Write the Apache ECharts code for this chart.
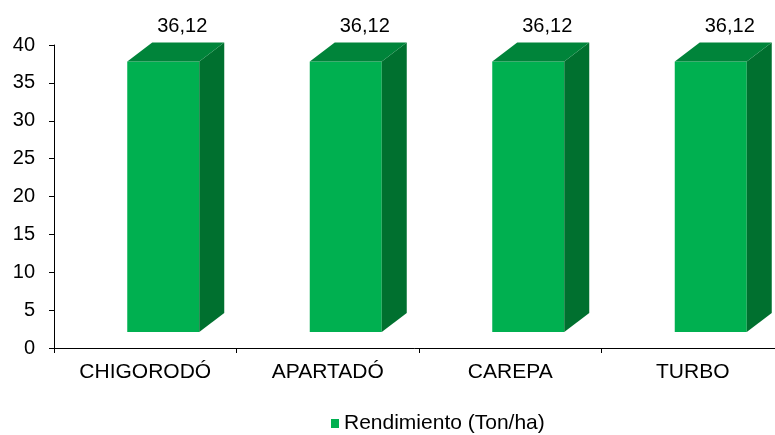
<!DOCTYPE html>
<html>
<head>
<meta charset="utf-8">
<script src="https://cdn.jsdelivr.net/npm/echarts@6/dist/echarts.min.js"></script>
<style>
    html, body {margin: 0; padding: 0; background: #fff;}
    #chart {width: 775px; height: 435px;}
</style>
</head>
<body>
<div id="chart"></div>
<script>
const categories = ['CHIGORODÓ', 'APARTADÓ', 'CAREPA', 'TURBO'];
const rendimiento = [36.12, 36.12, 36.12, 36.12];
const seriesName = 'Rendimiento (Ton/ha)';

const font = '"Liberation Sans", Arial, sans-serif';

// caras del prisma 3D
const frontColor = '#00B050';
const sideColor = '#00702F';
const topColor = '#00843A';
const depthX = 25, depthY = -19;

function renderBar(params, api) {
    let idx = api.value(0);
    let v = api.value(1);
    let top = api.coord([idx, v]);
    let base = api.coord([idx, 0]);

    let x0 = base[0] - 18, x1 = base[0] + 54;
    let yTop = top[1] - 13, yBot = base[1] - 16;

    return {
        type: 'group',
        children: [
            {
                type: 'rect',
                shape: {x: x0, y: yTop, width: x1 - x0, height: yBot - yTop},
                style: {fill: frontColor}
            },
            {
                type: 'polygon',
                shape: {points: [[x1, yTop], [x1 + depthX, yTop + depthY], [x1 + depthX, yBot + depthY], [x1, yBot]]},
                style: {fill: sideColor}
            },
            {
                type: 'polygon',
                shape: {points: [[x0, yTop], [x0 + depthX, yTop + depthY], [x1 + depthX, yTop + depthY], [x1, yTop]]},
                style: {fill: topColor}
            },
            {
                type: 'text',
                x: base[0] + 37,
                y: yTop + depthY - 16,
                style: {
                    text: v.toFixed(2).replace('.', ','),
                    fill: '#000',
                    font: '20px ' + font,
                    align: 'center',
                    verticalAlign: 'middle'
                }
            }
        ]
    };
}

let chart = echarts.init(document.getElementById('chart'));

let option = {
    animation: false,
    grid: {
        left: 54,
        top: 45,
        width: 730,
        height: 303,
        outerBoundsMode: 'none'
    },
    legend: {
        left: 331,
        top: 413,
        padding: 0,
        icon: 'rect',
        itemWidth: 8,
        itemHeight: 9,
        itemGap: 4,
        textStyle: {fontFamily: font, fontSize: 21, color: '#000'},
        data: [seriesName]
    },
    xAxis: {
        type: 'category',
        data: categories,
        boundaryGap: true,
        axisLine: {lineStyle: {color: '#000', width: 1}},
        axisTick: {show: true, length: 5, lineStyle: {color: '#000'}},
        axisLabel: {color: '#000', fontFamily: font, fontSize: 21, margin: 14}
    },
    yAxis: {
        type: 'value',
        min: 0,
        max: 40,
        interval: 5,
        splitLine: {show: false},
        axisLine: {show: true, lineStyle: {color: '#000', width: 1}},
        axisTick: {show: true, length: 5, lineStyle: {color: '#000'}},
        axisLabel: {color: '#000', fontFamily: font, fontSize: 20, margin: 19}
    },
    series: [{
        name: seriesName,
        type: 'custom',
        renderItem: renderBar,
        itemStyle: {color: frontColor},
        data: rendimiento.map(function (v, i) {
            return [i, v];
        })
    }]
};

chart.setOption(option);
</script>
</body>
</html>
